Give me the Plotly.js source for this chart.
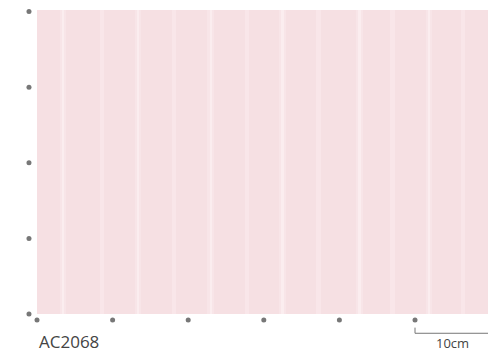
<!DOCTYPE html>
<html>
<head>
<meta charset="utf-8">
<script src="https://cdn.plot.ly/plotly-3.0.1.min.js"></script>
<style>html,body{margin:0;padding:0;background:#fff;}#chart{width:488px;height:352px;}</style>
</head>
<body>
<div id="chart"></div>
<script>
// Swatch data (cm)
const swatchWidthCm = 59.66;
const swatchHeightCm = 40.2;
const solidStripeX = [3.44, 13.36, 23.0, 32.5, 42.7, 51.85];
const dottedStripeX = [8.6, 18.1, 27.8, 37.2, 47.0, 56.35];
const gridXTicks = [0, 10, 20, 30, 40, 50];
const gridYTicks = [0, 10, 20, 30, 40];
const scaleBarX = [50, 50, 59.66];
const scaleBarY = [-1.8, -2.55, -2.55];
const productCode = "AC2068";
const scaleLabel = "10cm";

const full = v => v.map(() => swatchHeightCm);

const traces = [
  {
    type: 'bar', x: [swatchWidthCm / 2], y: [swatchHeightCm], base: 0,
    width: swatchWidthCm, marker: {color: '#f6e0e3', line: {width: 0}},
    hoverinfo: 'skip', showlegend: false
  },
  {
    type: 'bar', x: solidStripeX, y: full(solidStripeX), base: 0,
    width: 0.9, marker: {color: 'rgba(255,245,246,0.25)', line: {width: 0}},
    hoverinfo: 'skip', showlegend: false
  },
  {
    type: 'bar', x: solidStripeX, y: full(solidStripeX), base: 0,
    width: 0.35, marker: {color: 'rgba(255,250,250,0.4)', line: {width: 0}},
    hoverinfo: 'skip', showlegend: false
  },
  {
    type: 'bar', x: dottedStripeX, y: full(dottedStripeX), base: 0,
    width: 0.6, marker: {color: 'rgba(255,246,247,0.3)', line: {width: 0}},
    hoverinfo: 'skip', showlegend: false
  },
  {
    type: 'scatter', mode: 'markers', x: gridYTicks.map(() => -1.06), y: gridYTicks,
    marker: {color: '#777', size: 5}, cliponaxis: false, hoverinfo: 'skip', showlegend: false
  },
  {
    type: 'scatter', mode: 'markers', x: gridXTicks, y: gridXTicks.map(() => -0.8),
    marker: {color: '#777', size: 5}, cliponaxis: false, hoverinfo: 'skip', showlegend: false
  },
  {
    type: 'scatter', mode: 'lines', x: scaleBarX, y: scaleBarY,
    line: {color: '#777', width: 1}, hoverinfo: 'skip', showlegend: false
  }
];

const layout = {
  width: 488, height: 352,
  margin: {l: 0, r: 0, t: 0, b: 0, pad: 0},
  paper_bgcolor: '#ffffff',
  plot_bgcolor: '#ffffff',
  barmode: 'overlay',
  bargap: 0,
  xaxis: {range: [-4.894, 59.656], showgrid: false, zeroline: false, showticklabels: false, showline: false, ticks: '', fixedrange: true},
  yaxis: {range: [-5.026, 41.534], showgrid: false, zeroline: false, showticklabels: false, showline: false, ticks: '', fixedrange: true},
  annotations: [
    {xref: 'x', yref: 'y', x: 0, y: -3.6, xanchor: 'left', yanchor: 'middle', text: productCode, showarrow: false,
     font: {family: 'Open Sans', size: 17, color: '#444'}},
    {xref: 'x', yref: 'y', x: 55.0, y: -3.9, xanchor: 'center', yanchor: 'middle', text: scaleLabel, showarrow: false,
     font: {family: 'Open Sans', size: 13, color: '#444'}}
  ]
};

Plotly.newPlot('chart', traces, layout, {staticPlot: true, displayModeBar: false});
</script>
</body>
</html>
